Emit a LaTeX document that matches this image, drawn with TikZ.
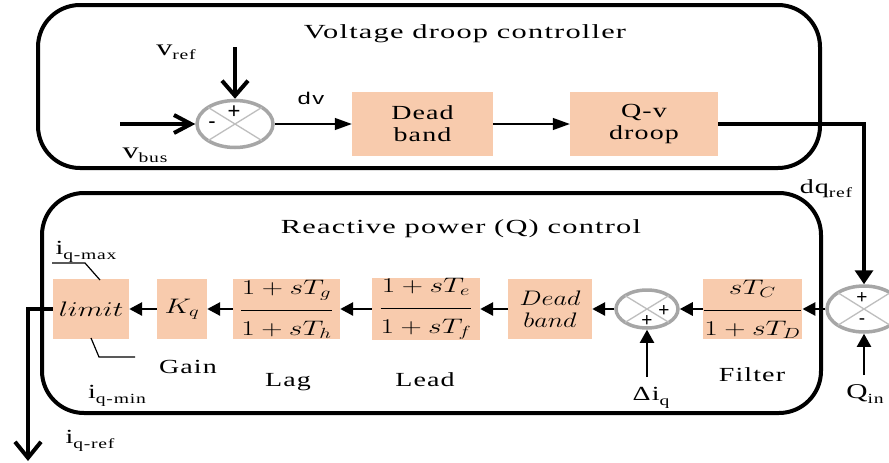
\RequirePackage{fix-cm}
\documentclass[tikz,border=0pt]{standalone}
\usepackage{fontspec}
\setmainfont[LetterSpace=4]{Liberation Serif}
\newfontfamily\sansf{Liberation Sans}
\newfontfamily\sansl[LetterSpace=6]{Liberation Sans}
\usepackage{amsmath}
\usepackage{graphicx}
\usetikzlibrary{arrows.meta,shapes.geometric,calc}
\definecolor{peach}{HTML}{F8CBAD}
\definecolor{sumgray}{HTML}{A6A6A6}
\definecolor{xgray}{HTML}{BEBEBE}
\newcommand\sx[1]{\scalebox{1.4}[1]{#1}}
\newcommand\sxt[1]{\scalebox{1.52}[1]{#1}}
\newcommand\sxi[1]{\scalebox{1.25}[1]{#1}}
\newcommand\sbs[2][4pt]{\raisebox{-#1}{\fontsize{14}{14}\selectfont #2}}
\begin{document}
\begin{tikzpicture}[x=1pt,y=-1pt,
  panel/.style={draw=black, line width=4pt, rounded corners=42pt, inner sep=0pt},
  blk/.style={fill=peach, inner sep=0pt, align=center, font=\normalfont\fontsize{20}{22}\selectfont},
  mblk/.style={fill=peach, inner sep=0pt, align=center, font=\normalfont\fontsize{21}{22}\selectfont},
  lbl/.style={inner sep=0pt, anchor=base, font=\normalfont\fontsize{20}{22}\selectfont},
  sumn/.style={ellipse, draw=sumgray, line width=3.5pt, inner sep=0pt},
  xln/.style={draw=xgray, line width=1.3pt},
  sgn/.style={inner sep=0pt, font=\normalfont\sansf\fontsize{22}{22}\selectfont},
  sgns/.style={inner sep=0pt, font=\normalfont\sansf\fontsize{19}{19}\selectfont},
  thinarr/.style={line width=1.3pt, -{Triangle[length=17pt,width=12pt]}},
  rowarr/.style={line width=2.8pt, -{Triangle[length=13pt,width=13pt]}},
  uparr/.style={line width=2pt, -{Triangle[length=13pt,width=14pt]}},
  heavy/.style={line width=4pt},
]
\fill[white] (0,0) rectangle (889,463);
\useasboundingbox (0,0) rectangle (889,463);

% panels
\node[panel, minimum width=782pt, minimum height=163pt] (toppanel) at (429,86.5) {};
\node[panel, minimum width=779pt, minimum height=220pt] (botpanel) at (431.5,303) {};

% ---------- voltage droop controller ----------
\node[blk, minimum width=141pt, minimum height=64pt] (db1) at (422.5,124) {\sx{Dead}\\\sx{band}};
\node[blk, minimum width=148pt, minimum height=64pt] (qv) at (644,124) {\sx{Q-v}\\\sx{droop}};

\node[lbl, font=\normalfont\fontsize{23}{24}\selectfont] (vref) at (176,55) {\sx{v\sbs{ref}}};
\node[lbl, font=\normalfont\fontsize{23}{24}\selectfont] (vbus) at (145,158) {\sx{v\sbs{bus}}};
\node[lbl, font=\normalfont\sansl\fontsize{17}{18}\selectfont] (dv) at (311,104) {\sx{dv}};
\node[lbl] (dqref) at (826,193) {\sx{dq\sbs{ref}}};

\node[sumn, minimum width=76pt, minimum height=47pt] (s1) at (235,124) {};
\draw[xln] ($(s1.center)+(-26.9,-16.6)$) -- ($(s1.center)+(26.9,16.6)$);
\draw[xln] ($(s1.center)+(-26.9,16.6)$) -- ($(s1.center)+(26.9,-16.6)$);
\node[sgn] (s1p) at (234,112) {+};
\node[sgn] (s1m) at (212,125) {-};

\coordinate (vrefs) at (235,47);
\coordinate (vbuss) at (120,124);
\draw[heavy, -{Straight Barb[length=15pt,width=26pt]}] (vrefs) -- (s1.north);
\draw[heavy, -{Straight Barb[length=17pt,width=18pt]}] (vbuss) -- (s1.west);
\draw[thinarr] (s1.east) -- (db1.west);
\draw[thinarr] (db1.east) -- (qv.west);

% ---------- reactive power control ----------
\node[mblk, minimum width=76pt, minimum height=60pt] (lim) at (91,309) {\sx{$limit$}};
\node[mblk, minimum width=50pt, minimum height=60pt] (kq) at (182,309) {\sx{$K_q$}};
\node[mblk, minimum width=107pt, minimum height=60pt] (lag) at (286.5,309)
  {\sx{$\displaystyle\frac{\rule[-13pt]{0pt}{13pt}1+sT_g}{\rule{0pt}{22pt}1+sT_h}$}};
\node[mblk, minimum width=108pt, minimum height=60pt] (lead) at (426,309)
  {\sx{$\displaystyle\frac{\rule[-13pt]{0pt}{13pt}1+sT_e}{\rule{0pt}{22pt}1+sT_f}$}};
\node[mblk, minimum width=84pt, minimum height=60pt] (db2) at (550,309) {\sxi{$Dead$}\\\sxi{$band$}};
\node[mblk, minimum width=99pt, minimum height=60pt] (filt) at (752.5,309)
  {\sx{$\displaystyle\frac{\rule[-13pt]{0pt}{13pt}sT_C}{\rule{0pt}{22pt}1+sT_D}$}};

\node[lbl] (iqmax) at (86,254) {\sx{i\sbs[5pt]{q-max}}};
\node[lbl] (iqmin) at (117,398) {\sx{i\sbs[5pt]{q-min}}};
\node[lbl] (iqref) at (90,443) {\sx{i\sbs[5pt]{q-ref}}};
\node[lbl] (gain) at (188,373) {\sx{Gain}};
\node[lbl] (laglbl) at (288,386) {\sx{Lag}};
\node[lbl] (leadlbl) at (425,386) {\sx{Lead}};
\node[lbl] (filtlbl) at (752,381) {\sx{Filter}};
\node[lbl] (diq) at (651,400) {\sx{Δi\sbs[5pt]{q}}};
\node[lbl, font=\normalfont\fontsize{21}{22}\selectfont] (qin) at (865,398) {\sx{Q\sbs[5pt]{in}}};

\node[sumn, minimum width=62pt, minimum height=38pt] (s2) at (647,309) {};
\draw[xln] ($(s2.center)+(-21.9,-13.4)$) -- ($(s2.center)+(21.9,13.4)$);
\draw[xln] ($(s2.center)+(-21.9,13.4)$) -- ($(s2.center)+(21.9,-13.4)$);
\node[sgns] (s2r) at (664,311) {+};
\node[sgns] (s2b) at (647,321) {+};

\node[sumn, minimum width=74pt, minimum height=46pt] (s3) at (864,309) {};
\draw[xln] ($(s3.center)+(-26.2,-16.3)$) -- ($(s3.center)+(26.2,16.3)$);
\draw[xln] ($(s3.center)+(-26.2,16.3)$) -- ($(s3.center)+(26.2,-16.3)$);
\node[sgns] (s3p) at (862,298) {+};
\node[sgns] (s3m) at (862,322) {-};

\draw[heavy, -{Triangle[length=14pt,width=18pt]}] (qv.east) -| (s3.north);

\draw[rowarr] (s3.west) -- (filt.east);
\draw[rowarr] (filt.west) -- (s2.east);
\draw[rowarr] (s2.west) -- (db2.east);
\draw[rowarr] (db2.west) -- (lead.east);
\draw[rowarr] (lead.west) -- (lag.east);
\draw[rowarr] (lag.west) -- (kq.east);
\draw[rowarr] (kq.west) -- (lim.east);

\coordinate (dis) at (647,377);
\coordinate (qins) at (864,375);
\draw[uparr] (dis) -- (s2.south);
\draw[uparr] (qins) -- (s3.south);

\coordinate (oc) at (28,309);
\coordinate (oe) at (28,461);
\draw[heavy, -{Straight Barb[length=16pt,width=26pt]}] (lim.west) -- (oc) -- (oe);

\draw[line width=1.2pt] (52,263) -- (85,263) -- (100,280);
\draw[line width=1.2pt] (91,338) -- (99,357) -- (135,357);

% titles
\node[lbl] (t1) at (465,38) {\sxt{Voltage droop controller}};
\node[lbl] (t2) at (461,233) {\sxt{Reactive power (Q) control}};
\end{tikzpicture}
\end{document}
